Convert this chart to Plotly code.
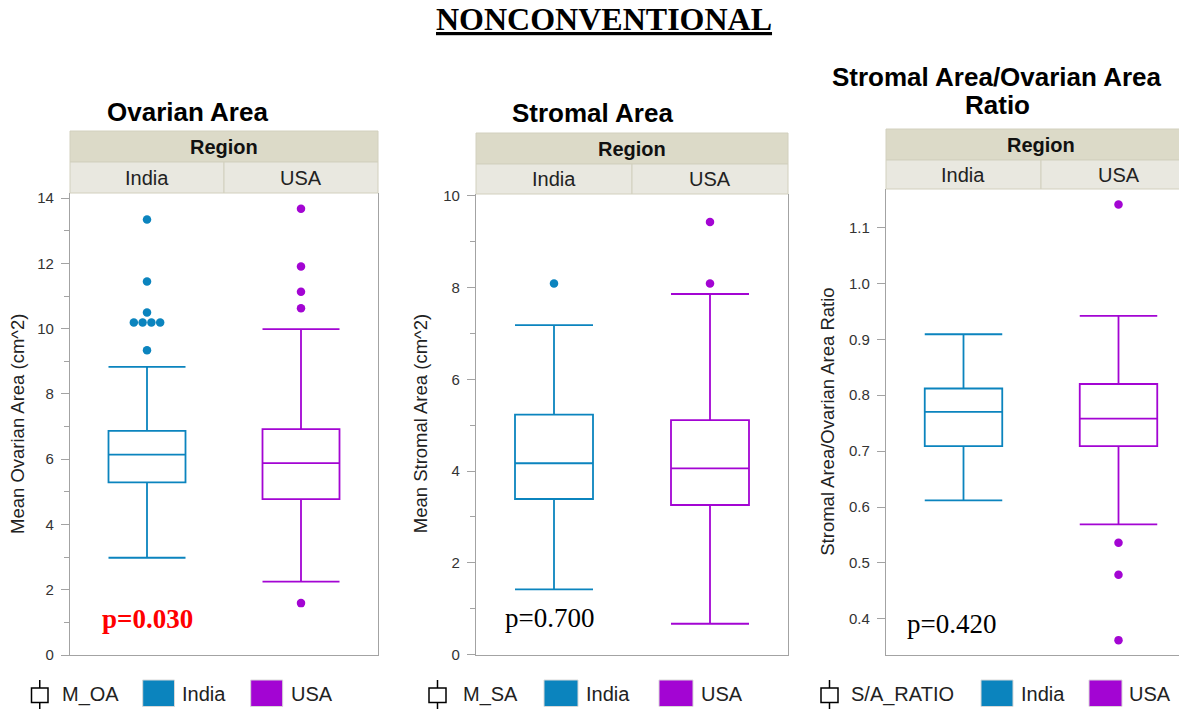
import plotly.graph_objects as go

W, H = 1179, 711

# ---------------- data ----------------
REGIONS = ["India", "USA"]

# box stats: [lower whisker, Q1, median, Q3, upper whisker]
OA_INDIA = [2.98, 5.29, 6.14, 6.87, 8.83]
OA_USA = [2.25, 4.78, 5.88, 6.92, 9.99]
OA_INDIA_OUT = [13.35, 11.45, 10.50, 10.19, 10.19, 10.19, 10.19, 9.34]
OA_USA_OUT = [13.68, 11.91, 11.13, 10.63, 1.59]

SA_INDIA = [1.42, 3.39, 4.17, 5.23, 7.18]
SA_USA = [0.67, 3.26, 4.06, 5.11, 7.86]
SA_INDIA_OUT = [8.09]
SA_USA_OUT = [9.43, 8.09]

RATIO_INDIA = [0.612, 0.709, 0.770, 0.812, 0.909]
RATIO_USA = [0.569, 0.709, 0.758, 0.820, 0.942]
RATIO_INDIA_OUT = []
RATIO_USA_OUT = [1.141, 0.536, 0.479, 0.362]

P_VALUES = ["p=0.030", "p=0.700", "p=0.420"]
TITLES = [["Ovarian Area"], ["Stromal Area"], ["Stromal Area/Ovarian Area", "Ratio"]]
Y_TITLES = ["Mean Ovarian Area (cm^2)", "Mean Stromal Area (cm^2)",
            "Stromal Area/Ovarian Area Ratio"]
VARS = ["M_OA", "M_SA", "S/A_RATIO"]

# ---------------- style ----------------
COLORS = {"India": "#0B84BE", "USA": "#A305D3"}
SANS = "Liberation Sans, Arial, sans-serif"
SERIF = "Liberation Serif, Times New Roman, serif"
AXIS_GRAY = "#A3A3A3"
HDR1 = "#DCDAC8"
HDR2 = "#E9E8E0"
HDR_LINE = "#D2D0BE"

PANELS = [
    dict(stats=[OA_INDIA, OA_USA], outs=[OA_INDIA_OUT, OA_USA_OUT],
         x0=70, x1=378, top=193, bot=655, hdr=131, mid=162,
         yrange=[0, 14.16], dtick=2, minor=1, fmt="d",
         title_x=187, title_y=[112], ytitle_x=17,
         p_xy=(147, 619), p_color="#FF0000", p_bold=True,
         leg=dict(icon=(31.5, 48), text=60, sq1=(142.7, 174.5), t1=180,
                  sq2=(250.7, 282.7), t2=289), mirror=True),
    dict(stats=[SA_INDIA, SA_USA], outs=[SA_INDIA_OUT, SA_USA_OUT],
         x0=476, x1=788, top=194, bot=654.5, hdr=133, mid=164,
         yrange=[0, 10.04], dtick=2, minor=1, fmt="d",
         title_x=592, title_y=[113], ytitle_x=420,
         p_xy=(549, 618), p_color="#000000", p_bold=False,
         leg=dict(icon=(429, 446), text=460.5, sq1=(544, 578), t1=584,
                  sq2=(659, 693), t2=699), mirror=True),
    dict(stats=[RATIO_INDIA, RATIO_USA], outs=[RATIO_INDIA_OUT, RATIO_USA_OUT],
         x0=886, x1=1196, top=189, bot=654.5, hdr=129, mid=160,
         yrange=[0.3363, 1.1687], dtick=0.1, minor=None, fmt=".1f",
         title_x=997, title_y=[77, 105], ytitle_x=828,
         p_xy=(951.5, 624), p_color="#000000", p_bold=False,
         leg=dict(icon=(821, 838), text=849, sq1=(981, 1013), t1=1019,
                  sq2=(1089, 1122), t2=1127), mirror=False),
]

DOT_STEP = 0.057  # horizontal spacing for coincident outliers (category units)


def px(x):
    return x / W


def py(y):
    return 1 - y / H


def dodge(values, step):
    counts = {}
    for v in values:
        counts[v] = counts.get(v, 0) + 1
    seen = {}
    offs = []
    for v in values:
        n = counts[v]
        k = seen.get(v, 0)
        seen[v] = k + 1
        offs.append((k - (n - 1) / 2) * step)
    return offs


fig = go.Figure()
shapes = []
annotations = []
layout_axes = {}

for k, P in enumerate(PANELS):
    sfx = "" if k == 0 else str(k + 1)
    xref, yref = "x" + sfx, "y" + sfx
    x1c = min(P["x1"], W)
    cat_w = (P["x1"] - P["x0"]) / 2
    xr = [-0.5, -0.5 + (x1c - P["x0"]) / cat_w]

    layout_axes["xaxis" + sfx] = dict(
        domain=[px(P["x0"]), px(x1c)], range=xr, anchor=yref,
        showline=True, linecolor=AXIS_GRAY, linewidth=1.2,
        showticklabels=False, ticks="", showgrid=False, zeroline=False,
        automargin=False, fixedrange=True)
    yax = dict(
        domain=[py(P["bot"]), py(P["top"])], range=P["yrange"], anchor=xref,
        showline=True, linecolor=AXIS_GRAY, linewidth=1.2,
        mirror=P["mirror"],
        ticks="outside", ticklen=8, tickcolor=AXIS_GRAY, tickwidth=1,
        dtick=P["dtick"], tick0=0, tickformat=P["fmt"],
        tickfont=dict(family=SANS, size=15, color="#333333"),
        ticklabelstandoff=4,
        showgrid=False, zeroline=False, automargin=False, fixedrange=True)
    if P["minor"]:
        yax["minor"] = dict(ticks="outside", ticklen=5, tickcolor=AXIS_GRAY,
                            dtick=P["minor"], tick0=0, showgrid=False)
    layout_axes["yaxis" + sfx] = yax

    for i, reg in enumerate(REGIONS):
        s = P["stats"][i]
        col = COLORS[reg]
        fig.add_trace(go.Box(
            x=[i], lowerfence=[s[0]], q1=[s[1]], median=[s[2]], q3=[s[3]],
            upperfence=[s[4]], width=0.5, whiskerwidth=1,
            line=dict(color=col, width=1.8), fillcolor="rgba(0,0,0,0)",
            boxpoints=False, showlegend=False, hoverinfo="skip",
            xaxis=xref, yaxis=yref))
        outs = P["outs"][i]
        if outs:
            offs = dodge(outs, DOT_STEP)
            fig.add_trace(go.Scatter(
                x=[i + o for o in offs], y=outs, mode="markers",
                marker=dict(color=col, size=8.5, line=dict(width=0)),
                showlegend=False, hoverinfo="skip", cliponaxis=False,
                xaxis=xref, yaxis=yref))

    # header strip
    hx0, hx1 = P["x0"], P["x1"]
    hmid = (hx0 + hx1) / 2
    shapes.append(dict(type="rect", xref="paper", yref="paper",
                       x0=px(hx0), x1=px(hx1), y0=py(P["mid"]), y1=py(P["hdr"]),
                       fillcolor=HDR1, line=dict(color=HDR_LINE, width=1)))
    shapes.append(dict(type="rect", xref="paper", yref="paper",
                       x0=px(hx0), x1=px(hmid), y0=py(P["top"]), y1=py(P["mid"]),
                       fillcolor=HDR2, line=dict(color=HDR_LINE, width=1)))
    shapes.append(dict(type="rect", xref="paper", yref="paper",
                       x0=px(hmid), x1=px(hx1), y0=py(P["top"]), y1=py(P["mid"]),
                       fillcolor=HDR2, line=dict(color=HDR_LINE, width=1)))
    annotations.append(dict(text="<b>Region</b>", xref="paper", yref="paper",
                            x=px(hmid), y=py((P["hdr"] + P["mid"]) / 2),
                            showarrow=False, xanchor="center", yanchor="middle",
                            font=dict(family=SANS, size=20, color="#111111")))
    for i, reg in enumerate(REGIONS):
        cx = hx0 + cat_w * (i + 0.5)
        annotations.append(dict(text=reg, xref="paper", yref="paper",
                                x=px(cx), y=py((P["mid"] + P["top"]) / 2),
                                showarrow=False, xanchor="center", yanchor="middle",
                                font=dict(family=SANS, size=20, color="#222222")))

    # panel title
    for line, ty in zip(TITLES[k], P["title_y"]):
        annotations.append(dict(text="<b>" + line + "</b>", xref="paper", yref="paper",
                                x=px(P["title_x"]), y=py(ty), showarrow=False,
                                xanchor="center", yanchor="middle",
                                font=dict(family=SANS, size=26, color="#000000")))
    # y-axis title
    annotations.append(dict(text=Y_TITLES[k], xref="paper", yref="paper",
                            x=px(P["ytitle_x"]), y=py((P["top"] + P["bot"]) / 2),
                            textangle=-90, showarrow=False,
                            xanchor="center", yanchor="middle",
                            font=dict(family=SANS, size=18.5, color="#222222")))
    # p-value
    ptxt = "<b>" + P_VALUES[k] + "</b>" if P["p_bold"] else P_VALUES[k]
    annotations.append(dict(text=ptxt, xref="paper", yref="paper",
                            x=px(P["p_xy"][0]), y=py(P["p_xy"][1]),
                            showarrow=False, xanchor="center", yanchor="middle",
                            font=dict(family=SERIF, size=27, color=P["p_color"])))

    # legend
    L = P["leg"]
    ix0, ix1 = L["icon"]
    icx = (ix0 + ix1) / 2
    shapes.append(dict(type="line", xref="paper", yref="paper",
                       x0=px(icx), x1=px(icx), y0=py(680), y1=py(709),
                       line=dict(color="#000000", width=1.5)))
    shapes.append(dict(type="rect", xref="paper", yref="paper",
                       x0=px(ix0), x1=px(ix1), y0=py(702.5), y1=py(688),
                       fillcolor="#FFFFFF", line=dict(color="#000000", width=1.5)))
    annotations.append(dict(text=VARS[k], xref="paper", yref="paper",
                            x=px(L["text"]), y=py(694), showarrow=False,
                            xanchor="left", yanchor="middle",
                            font=dict(family=SANS, size=20, color="#222222")))
    for reg, sq, t in [("India", L["sq1"], L["t1"]), ("USA", L["sq2"], L["t2"])]:
        shapes.append(dict(type="rect", xref="paper", yref="paper",
                           x0=px(sq[0]), x1=px(sq[1]), y0=py(706.5), y1=py(680),
                           fillcolor=COLORS[reg], line=dict(color="#D8D8D8", width=1)))
        annotations.append(dict(text=reg, xref="paper", yref="paper",
                                x=px(t), y=py(694), showarrow=False,
                                xanchor="left", yanchor="middle",
                                font=dict(family=SANS, size=20, color="#222222")))

# main title
annotations.append(dict(text="<b><u>NONCONVENTIONAL</u></b>", xref="paper", yref="paper",
                        x=px(603.5), y=py(19), showarrow=False,
                        xanchor="center", yanchor="middle",
                        font=dict(family=SERIF, size=32, color="#000000")))

fig.update_layout(
    width=W, height=H, margin=dict(l=0, r=0, t=0, b=0, autoexpand=False),
    paper_bgcolor="#FFFFFF", plot_bgcolor="#FFFFFF",
    showlegend=False, shapes=shapes, annotations=annotations,
    **layout_axes)

fig.write_html("out.html", config={"displayModeBar": False},
               post_script="document.body.style.margin='0px';document.body.style.overflow='hidden';")
